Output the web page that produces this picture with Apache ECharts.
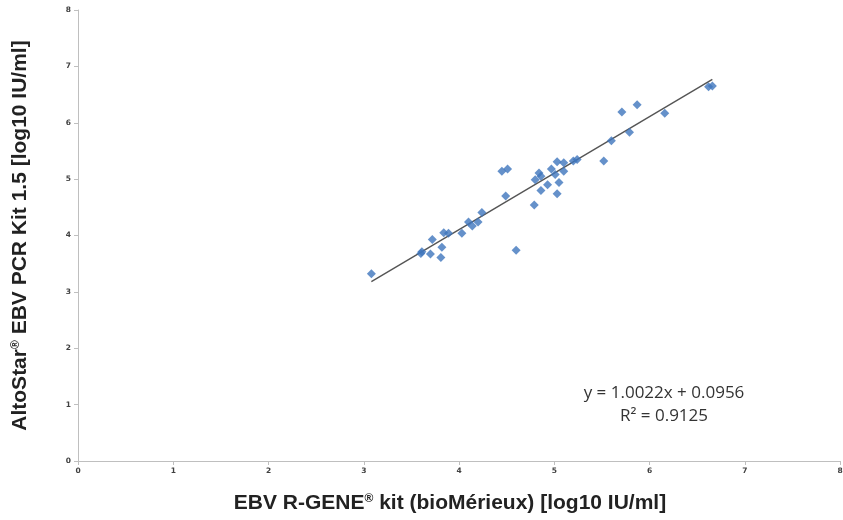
<!DOCTYPE html>
<html>
<head>
<meta charset="utf-8">
<script src="https://cdn.jsdelivr.net/npm/echarts@6/dist/echarts.min.js"></script>
<style>html,body{margin:0;padding:0;background:#fff}#c{width:843px;height:520px}</style>
</head>
<body>
<div id="c"></div>
<script>
var xTicks = [0, 1, 2, 3, 4, 5, 6, 7, 8];
var yTicks = [0, 1, 2, 3, 4, 5, 6, 7, 8];
var xValues = [3.08, 3.61, 3.60, 3.70, 3.72, 3.81, 3.82, 3.84, 3.89, 4.03, 4.10, 4.14, 4.20, 4.24,
  4.45, 4.51, 4.49, 4.60, 4.79, 4.80, 4.84, 4.86, 4.86, 4.93, 4.97, 5.01, 5.03, 5.05, 5.03,
  5.10, 5.10, 5.20, 5.24, 5.52, 5.60, 5.79, 5.71, 5.87, 6.16, 6.62, 6.66];
var yValues = [3.32, 3.71, 3.68, 3.67, 3.93, 3.61, 3.79, 4.05, 4.04, 4.04, 4.24, 4.17, 4.24, 4.41,
  5.14, 5.18, 4.70, 3.74, 4.54, 4.99, 5.11, 5.05, 4.80, 4.90, 5.18, 5.08, 5.31, 4.94, 4.74,
  5.29, 5.14, 5.32, 5.35, 5.32, 5.68, 5.83, 6.19, 6.32, 6.17, 6.64, 6.65];
var slope = 1.0022;
var intercept = 0.0956;
var eqLabel = 'y = 1.0022x + 0.0956';
var r2Label = 'R² = 0.9125';

var points = xValues.map(function (x, i) { return [x, yValues[i]]; });
var xMin = Math.min.apply(null, xValues), xMax = Math.max.apply(null, xValues);
var trend = [[xMin, slope * xMin + intercept], [xMax, slope * xMax + intercept]];

var chart = echarts.init(document.getElementById('c'), null, {renderer: 'canvas'});
var axisLabelStyle = {fontFamily: 'DejaVu Sans', fontSize: 7.5, fontWeight: 'bold', color: '#404040'};
function titleStyle(pad) {
  return {fontFamily: 'Liberation Sans', fontSize: 21, fontWeight: 'bold', color: '#222', padding: pad,
    rich: {sup: {fontFamily: 'Liberation Sans', fontSize: 12, fontWeight: 'bold', color: '#222', verticalAlign: 'top', padding: [0, 0, 8, 0]}}};
}
chart.setOption({
  animation: false,
  grid: {left: 78, right: 3, top: 10, bottom: 59, containLabel: false, outerBoundsMode: 'none'},
  xAxis: {
    type: 'value', min: xTicks[0], max: xTicks[xTicks.length - 1], interval: 1,
    axisLine: {show: true, lineStyle: {color: '#bfbfbf', width: 1}},
    axisTick: {show: true, length: 4, lineStyle: {color: '#bfbfbf'}},
    splitLine: {show: false},
    axisLabel: Object.assign({margin: 6}, axisLabelStyle),
    name: 'EBV R-GENE{sup|®} kit (bioMérieux) [log10 IU/ml]',
    nameLocation: 'middle', nameGap: 32,
    nameTextStyle: titleStyle([0, 18, 0, 0])
  },
  yAxis: {
    type: 'value', min: yTicks[0], max: yTicks[yTicks.length - 1], interval: 1,
    axisLine: {show: true, lineStyle: {color: '#bfbfbf', width: 1}},
    axisTick: {show: true, length: 4, lineStyle: {color: '#bfbfbf'}},
    splitLine: {show: false},
    axisLabel: Object.assign({margin: 7}, axisLabelStyle),
    name: 'AltoStar{sup|®} EBV PCR Kit 1.5 [log10 IU/ml]',
    nameLocation: 'middle', nameGap: 47, nameRotate: 90,
    nameTextStyle: titleStyle(0)
  },
  series: [
    {
      type: 'scatter', data: points, symbol: 'diamond', symbolSize: 9,
      itemStyle: {color: '#3f76bd'}, z: 3
    },
    {
      type: 'line', data: trend, symbol: 'none', z: 2,
      lineStyle: {color: '#555555', width: 1.4}
    }
  ],
  graphic: [
    {type: 'text', x: 664, y: 393, style: {text: eqLabel, fontFamily: 'Open Sans', fontSize: 17, fill: '#333', align: 'center', verticalAlign: 'middle'}},
    {type: 'text', x: 664, y: 416, style: {text: r2Label, fontFamily: 'Open Sans', fontSize: 17, fill: '#333', align: 'center', verticalAlign: 'middle'}}
  ]
});
</script>
</body>
</html>
